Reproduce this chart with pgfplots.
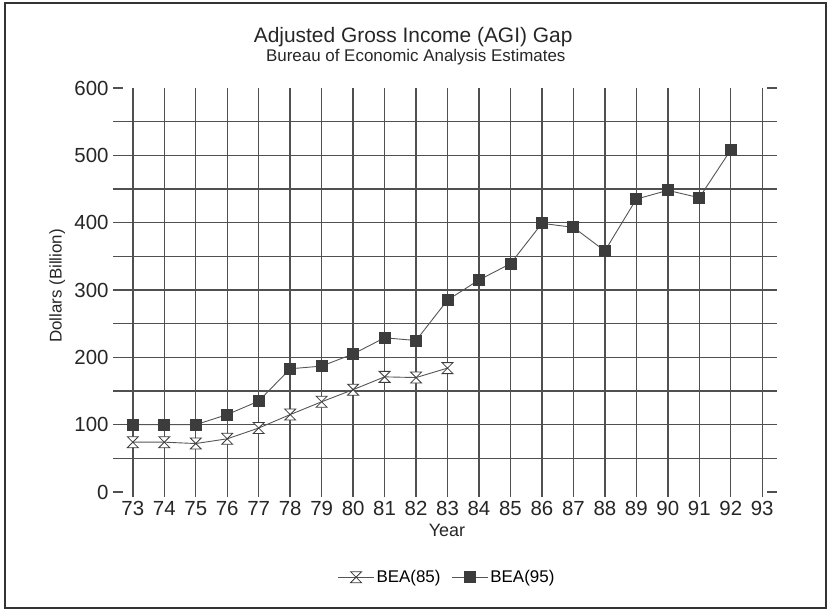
\documentclass[border=0pt]{standalone}
\usepackage{pgfplots}
\pgfplotsset{compat=1.18}
\usepackage{fontspec}
\setmainfont{Liberation Sans}
\definecolor{gridc}{HTML}{505050}
\definecolor{linec}{HTML}{555555}
\definecolor{markc}{HTML}{3C3C3C}
\pgfdeclareplotmark{hourglass}{%
  \pgfpathmoveto{\pgfqpoint{-\pgfplotmarksize}{\pgfplotmarksize}}%
  \pgfpathlineto{\pgfqpoint{\pgfplotmarksize}{\pgfplotmarksize}}%
  \pgfpathlineto{\pgfqpoint{-\pgfplotmarksize}{-\pgfplotmarksize}}%
  \pgfpathlineto{\pgfqpoint{\pgfplotmarksize}{-\pgfplotmarksize}}%
  \pgfpathclose
  \pgfusepathqfillstroke}
\pgfplotsset{
  legend image code/.code={%
    \draw[mark repeat=2,mark phase=2,#1] plot coordinates {(0bp,0bp) (18bp,0bp) (36bp,0bp)};}
}
\begin{document}
\begin{tikzpicture}[x=1bp,y=1bp]
\useasboundingbox (0,0) rectangle (828,613);
\draw[line width=1.6bp, black!80] (5,5) rectangle (826,610);
\begin{axis}[
  at={(113bp,116bp)}, anchor=south west,
  scale only axis, width=664bp, height=409bp,
  xmin=72.37, xmax=93.47, ymin=-7.4, ymax=600,
  axis line style={draw=none},
  clip=false,
  xtick={73,...,93},
  xtick style={draw=none},
  ytick={100,200,...,500},
  minor ytick={50,150,...,550},
  extra y ticks={0,600},
  extra y tick style={grid=none},
  ytick style={draw=gridc, line width=1.4bp},
  tick align=inside,
  major tick length=10bp,
  minor tick length=0bp,
  grid=both,
  major grid style={draw=gridc, line width=1.4bp},
  minor grid style={draw=gridc, line width=1.4bp},
  tick label style={font=\fontsize{20.5}{22}\selectfont, text=black!85},
  /pgf/number format/assume math mode=true,
  xticklabel style={yshift=-1bp},
  yticklabel style={xshift=-1bp},
  legend style={at={(0.503,-0.196)}, anchor=center, draw=none, fill=none,
    font=\fontsize{17}{19}\selectfont, legend columns=2,
    /tikz/every even column/.append style={column sep=9bp}},
]
\addplot[color=linec, line width=0.9bp, mark=hourglass, mark size=5.5bp,
  mark options={draw=markc, fill=white, line width=0.8bp}]
  coordinates {(73,74) (74,74) (75,72) (76,79) (77,95) (78,115) (79,134)
  (80,152) (81,171) (82,170) (83,184)};
\addlegendentry{BEA(85)}
\addplot[color=linec, line width=0.9bp, mark=square*, mark size=5.5bp,
  mark options={draw=markc, fill=markc}]
  coordinates {(73,100) (74,100) (75,100) (76,115) (77,135) (78,183) (79,187)
  (80,205) (81,229) (82,225) (83,285) (84,315) (85,339) (86,399) (87,393)
  (88,358) (89,435) (90,448) (91,437) (92,508)};
\addlegendentry{BEA(95)}
\node[font=\fontsize{21}{23}\selectfont, text=black!85] at (axis description cs:0.452,1.125) {Adjusted Gross Income (AGI) Gap};
\node[font=\fontsize{17}{19}\selectfont, text=black!85] at (axis description cs:0.456,1.076) {Bureau of Economic Analysis Estimates};
\node[font=\fontsize{18}{20}\selectfont, text=black!85] at (axis description cs:0.503,-0.081) {Year};
\node[font=\fontsize{17}{19}\selectfont, text=black!85, rotate=90] at (axis description cs:-0.084,0.516) {Dollars (Billion)};
\end{axis}
\end{tikzpicture}
\end{document}
